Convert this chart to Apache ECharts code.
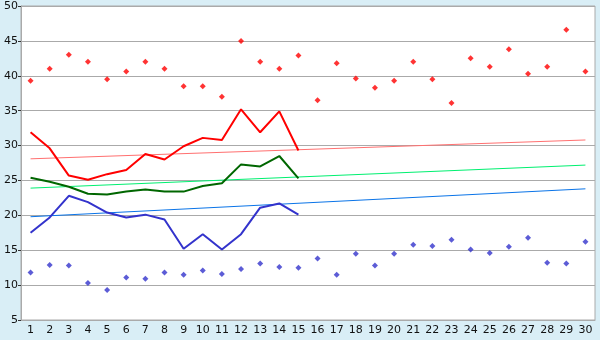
<!DOCTYPE html>
<html><head><meta charset="utf-8">
<script src="https://cdn.jsdelivr.net/npm/echarts@6/dist/echarts.min.js"></script>
<style>html,body{margin:0;padding:0;background:#d9eef6;}#c{width:600px;height:340px;}</style>
</head><body><div id="c"></div>
<script>
var days = ['1','2','3','4','5','6','7','8','9','10','11','12','13','14','15','16','17','18','19','20','21','22','23','24','25','26','27','28','29','30'];
var maxPoints = [39.3,41,43,42,39.5,40.6,42,41,38.5,38.5,37,45,42,41,42.9,36.5,41.8,39.6,38.3,39.3,42,39.5,36.1,42.5,41.3,43.8,40.3,41.3,46.6,40.6];
var minPoints = [11.8,12.9,12.8,10.3,9.3,11.1,10.9,11.8,11.5,12.1,11.6,12.3,13.1,12.6,12.5,13.8,11.5,14.5,12.8,14.5,15.8,15.6,16.5,15.1,14.6,15.5,16.8,13.2,13.1,16.2];
var redLine = [31.9,29.6,25.7,25.1,25.9,26.5,28.8,28,29.9,31.1,30.8,35.2,31.9,34.9,29.3];
var greenLine = [25.4,24.8,24.1,23.1,23.0,23.4,23.7,23.4,23.4,24.2,24.6,27.3,27.0,28.5,25.3];
var blueLine = [17.5,19.7,22.8,21.9,20.4,19.7,20.1,19.4,15.2,17.3,15.1,17.3,21.1,21.7,20.1];
var redTrend = [['1',28.1],['30',30.8]];
var greenTrend = [['1',23.9],['30',27.2]];
var blueTrend = [['1',19.8],['30',23.8]];
var yTicks = {min:5, max:50, interval:5};

var chart = echarts.init(document.getElementById('c'), null, {renderer:'canvas'});
var font = 'DejaVu Sans, Verdana, sans-serif';
chart.setOption({
  animation:false,
  backgroundColor:'#d9eef6',
  grid:{left:21, right:5, top:6, bottom:20, show:true, backgroundColor:'#ffffff', borderColor:'#aaaaaa', borderWidth:1},
  xAxis:{type:'category', data:days, boundaryGap:true,
    axisLine:{lineStyle:{color:'#aaaaaa'}},
    axisTick:{alignWithLabel:true, length:4, lineStyle:{color:'#333'}},
    axisLabel:{color:'#111', fontFamily:font, fontSize:11, margin:5, interval:0},
    splitLine:{show:false}},
  yAxis:{type:'value', min:yTicks.min, max:yTicks.max, interval:yTicks.interval,
    axisLine:{show:true, lineStyle:{color:'#aaaaaa'}},
    axisTick:{show:true, length:3, lineStyle:{color:'#333'}},
    axisLabel:{color:'#111', fontFamily:font, fontSize:11, margin:3},
    splitLine:{lineStyle:{color:'#aaaaaa', width:1}}},
  series:[
    {type:'line', data:redTrend, symbol:'none', lineStyle:{color:'#ff7070', width:1}, z:1},
    {type:'line', data:greenTrend, symbol:'none', lineStyle:{color:'#00f070', width:1}, z:1},
    {type:'line', data:blueTrend, symbol:'none', lineStyle:{color:'#0a74e8', width:1}, z:1},
    {type:'line', data:redLine, symbol:'none', lineStyle:{color:'#ff0000', width:2}, z:2},
    {type:'line', data:greenLine, symbol:'none', lineStyle:{color:'#006600', width:2}, z:2},
    {type:'line', data:blueLine, symbol:'none', lineStyle:{color:'#3333cc', width:2}, z:2},
    {type:'scatter', data:maxPoints, symbol:'diamond', symbolSize:6, itemStyle:{color:'#ff0000'}, z:3},
    {type:'scatter', data:minPoints, symbol:'diamond', symbolSize:6, itemStyle:{color:'#3333cc'}, z:3}
  ]
});
</script></body></html>
